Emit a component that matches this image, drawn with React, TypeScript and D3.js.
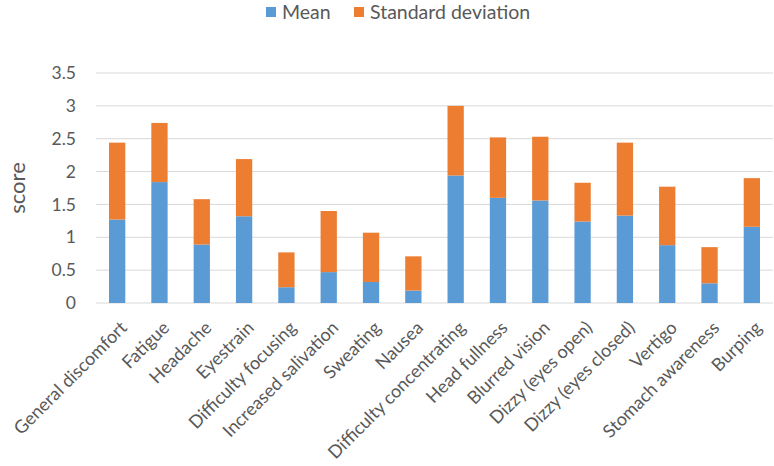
import React, { useEffect, useRef } from "react";
import * as d3 from "d3";

const categories = [
  "General discomfort",
  "Fatigue",
  "Headache",
  "Eyestrain",
  "Difficulty focusing",
  "Increased salivation",
  "Sweating",
  "Nausea",
  "Difficulty concentrating",
  "Head fullness",
  "Blurred vision",
  "Dizzy (eyes open)",
  "Dizzy (eyes closed)",
  "Vertigo",
  "Stomach awareness",
  "Burping",
];

const meanValues = [1.27, 1.84, 0.89, 1.32, 0.24, 0.47, 0.32, 0.19, 1.94, 1.6, 1.56, 1.24, 1.33, 0.88, 0.3, 1.16];
const sdValues = [1.17, 0.9, 0.69, 0.87, 0.53, 0.93, 0.75, 0.52, 1.06, 0.92, 0.97, 0.59, 1.11, 0.89, 0.55, 0.74];

const yTicks = [0, 0.5, 1, 1.5, 2, 2.5, 3, 3.5];
const seriesNames = ["Mean", "Standard deviation"];
const seriesColors = ["#5B9BD5", "#ED7D31"];

const FONT = "Lato, 'Open Sans', sans-serif";
const TEXT = "#595959";

const App = () => {
  const svgRef = useRef<SVGSVGElement>(null);

  useEffect(() => {
    const svg = d3.select(svgRef.current);
    svg.selectAll("*").remove();

    const margin = { top: 73, right: 1, bottom: 163, left: 96 };
    const width = 774 - margin.left - margin.right;
    const height = 466 - margin.top - margin.bottom;

    const x = d3.scaleBand().domain(categories).range([0, width]).paddingInner(0.615).paddingOuter(0.3075);
    const y = d3.scaleLinear().domain([0, 3.5]).range([height, 0]);

    const g = svg.append("g").attr("transform", `translate(${margin.left},${margin.top})`);

    // gridlines
    g.selectAll(".grid")
      .data(yTicks)
      .enter()
      .append("line")
      .attr("x1", 0)
      .attr("x2", width)
      .attr("y1", (d) => y(d))
      .attr("y2", (d) => y(d))
      .attr("stroke", "#D9D9D9")
      .attr("stroke-width", 1);

    // y tick labels
    g.selectAll(".ytick")
      .data(yTicks)
      .enter()
      .append("text")
      .attr("x", -20)
      .attr("y", (d) => y(d))
      .attr("dy", "0.35em")
      .attr("text-anchor", "end")
      .attr("font-family", FONT)
      .attr("font-size", 17.5)
      .attr("fill", TEXT)
      .text((d) => String(d));

    // stacked bars
    const rows = categories.map((c, i) => ({ category: c, mean: meanValues[i], sd: sdValues[i] }));
    const stack = d3.stack<any>().keys(["mean", "sd"])(rows);

    stack.forEach((layer, li) => {
      g.selectAll(`.bar${li}`)
        .data(layer)
        .enter()
        .append("rect")
        .attr("x", (d: any) => x(d.data.category)!)
        .attr("y", (d: any) => y(d[1]))
        .attr("width", x.bandwidth())
        .attr("height", (d: any) => y(d[0]) - y(d[1]))
        .attr("fill", seriesColors[li]);
    });

    // x labels rotated
    g.selectAll(".xlabel")
      .data(categories)
      .enter()
      .append("text")
      .attr("transform", (d) => `translate(${x(d)! + x.bandwidth() / 2 + 2},${height + 17}) rotate(-45)`)
      .attr("text-anchor", "end")
      .attr("dy", "0.7em")
      .attr("font-family", FONT)
      .attr("font-size", 18)
      .attr("fill", TEXT)
      .text((d) => d);

    // y axis title
    svg
      .append("text")
      .attr("transform", `translate(25,${margin.top + height / 2}) rotate(-90)`)
      .attr("text-anchor", "middle")
      .attr("font-family", FONT)
      .attr("font-size", 22)
      .attr("fill", TEXT)
      .text("score");

    // legend
    const legendX = [266, 354];
    seriesNames.forEach((name, i) => {
      const lg = svg.append("g").attr("transform", `translate(${legendX[i]},7)`);
      lg.append("rect").attr("width", 10).attr("height", 10).attr("fill", seriesColors[i]);
      lg.append("text")
        .attr("x", 16)
        .attr("y", 5)
        .attr("dy", "0.35em")
        .attr("font-family", FONT)
        .attr("font-size", 19.5)
        .attr("fill", TEXT)
        .text(name);
    });
  }, []);

  return (
    <svg
      ref={svgRef}
      width={774}
      height={466}
      style={{ position: "absolute", left: 0, top: 0, background: "#fff" }}
    ></svg>
  );
};

export default App;
